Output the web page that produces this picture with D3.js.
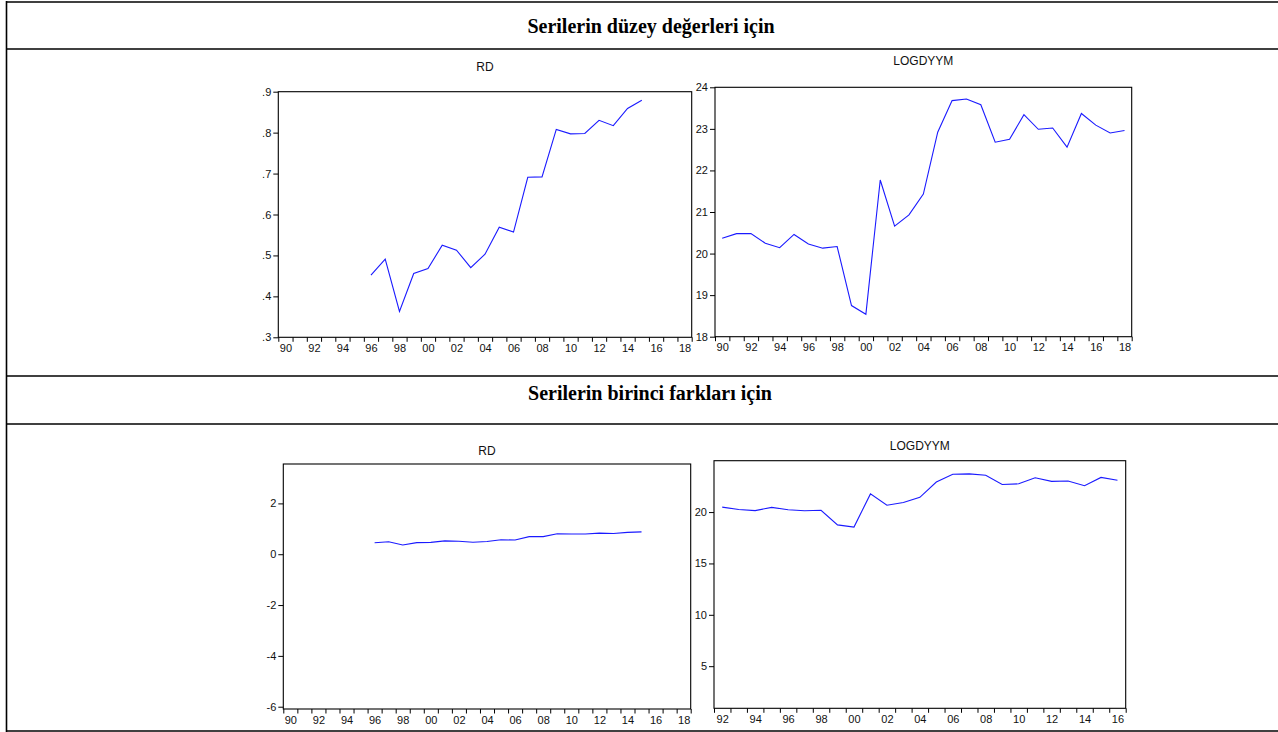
<!DOCTYPE html>
<html>
<head>
<meta charset="utf-8">
<script src="https://cdn.jsdelivr.net/npm/d3@7"></script>
<style>
  body { margin: 0; background: #fff; }
  svg { display: block; }
  .tick text { font-family: "Liberation Sans", Arial, sans-serif; font-size: 11px; fill: #111; }
  .title { font-family: "Liberation Sans", Arial, sans-serif; font-size: 12px; fill: #111; }
  .header { font-family: "Liberation Serif", "Times New Roman", serif; font-size: 20px; font-weight: bold; fill: #000; }
</style>
</head>
<body>
<div id="chart"></div>
<script>

var headers = ["Serilerin düzey değerleri için", "Serilerin birinci farkları için"]

var yearsFull = [1990,1991,1992,1993,1994,1995,1996,1997,1998,1999,2000,2001,2002,2003,2004,
  2005,2006,2007,2008,2009,2010,2011,2012,2013,2014,2015,2016,2017,2018]
var yearsShort = [1992,1993,1994,1995,1996,1997,1998,1999,2000,2001,2002,2003,2004,
  2005,2006,2007,2008,2009,2010,2011,2012,2013,2014,2015,2016]

var rdYears = [1996,1997,1998,1999,2000,2001,2002,2003,2004,2005,2006,2007,2008,2009,2010,
  2011,2012,2013,2014,2015]
var rdValues = [0.452,0.491,0.363,0.456,0.468,0.525,0.513,0.470,0.503,0.569,0.557,0.691,0.692,
  0.808,0.797,0.798,0.830,0.817,0.859,0.879]

var logYears = yearsFull
var logValues = [20.37,20.48,20.48,20.25,20.14,20.46,20.23,20.13,20.17,18.75,18.54,21.77,20.66,
  20.93,21.43,22.92,23.68,23.72,23.58,22.68,22.75,23.34,22.99,23.02,22.56,23.37,23.09,22.90,22.96]

var rdTicksLevel = [0.3,0.4,0.5,0.6,0.7,0.8,0.9]
var logTicksLevel = [18,19,20,21,22,23,24]
var rdTicksDiff = [-6,-4,-2,0,2]
var logTicksDiff = [5,10,15,20]

var width = 1278, height = 732

var svg = d3.select("#chart")
  .append("svg")
  .attr("width", width)
  .attr("height", height)

// table frame
var rows = [2, 49, 376, 424, 731]
rows.forEach(function(y) {
  svg.append("line")
    .attr("x1", 6).attr("x2", width)
    .attr("y1", y).attr("y2", y)
    .attr("stroke", "#000").attr("stroke-width", 1.6)
})
svg.append("line")
  .attr("x1", 6.5).attr("x2", 6.5)
  .attr("y1", 1).attr("y2", 732)
  .attr("stroke", "#000").attr("stroke-width", 1.6)

svg.append("text").attr("class", "header")
  .attr("x", 651).attr("y", 25.5).attr("dy", "0.35em")
  .attr("text-anchor", "middle")
  .text(headers[0])
svg.append("text").attr("class", "header")
  .attr("x", 650).attr("y", 393).attr("dy", "0.35em")
  .attr("text-anchor", "middle")
  .text(headers[1])

function levelFmt(d) { return d3.format(".1f")(d).replace(/^0\./, ".") }
function intFmt(d) { return String(d) }

var panels = [
  { title: "RD", axisYears: yearsFull, years: rdYears, values: rdValues,
    yDomain: [0.3, 0.9], yTicks: rdTicksLevel, fmt: levelFmt,
    box: [278.3, 91.7, 691.7, 337.3], titleY: 67 },
  { title: "LOGDYYM", axisYears: yearsFull, years: logYears, values: logValues,
    yDomain: [18, 24], yTicks: logTicksLevel, fmt: intFmt,
    box: [715, 87.3, 1131.7, 336.7], titleY: 61 },
  { title: "RD", axisYears: yearsFull, years: rdYears, values: rdValues,
    yDomain: [-6.09, 3.55], yTicks: rdTicksDiff, fmt: intFmt,
    box: [283.3, 464, 690.7, 709], titleY: 451 },
  { title: "LOGDYYM", axisYears: yearsShort, years: logYears, values: logValues,
    yDomain: [0.9, 25], yTicks: logTicksDiff, fmt: intFmt,
    box: [714, 460.7, 1125.7, 708.3], titleY: 446 }
]

panels.forEach(function(p) {
  var x0 = p.box[0], y0 = p.box[1], x1 = p.box[2], y1 = p.box[3]
  var first = p.axisYears[0], last = p.axisYears[p.axisYears.length - 1]

  var x = d3.scaleLinear().domain([first - 0.5, last + 0.5]).range([x0, x1])
  var y = d3.scaleLinear().domain(p.yDomain).range([y1, y0])

  var g = svg.append("g")

  // year boundary ticks
  var bounds = p.axisYears.map(function(d) { return d - 0.5 }).concat([last + 0.5])
  g.append("g")
    .attr("transform", "translate(0," + y1 + ")")
    .call(d3.axisBottom(x).tickValues(bounds).tickSize(4.5).tickFormat(""))
    .call(function(s) { s.select(".domain").remove() })
    .selectAll("line").attr("stroke", "#000")

  // even-year labels centred in their year
  var evens = p.axisYears.filter(function(d) { return d % 2 === 0 })
  g.append("g")
    .attr("transform", "translate(0," + y1 + ")")
    .call(d3.axisBottom(x).tickValues(evens).tickSize(0).tickPadding(7)
      .tickFormat(function(d) { return String(d).slice(2) }))
    .call(function(s) { s.select(".domain").remove() })

  g.append("g")
    .attr("transform", "translate(" + x0 + ",0)")
    .call(d3.axisLeft(y).tickValues(p.yTicks).tickSize(5).tickPadding(2).tickFormat(p.fmt))
    .call(function(s) { s.select(".domain").remove() })
    .selectAll("line").attr("stroke", "#000")

  g.append("rect")
    .attr("x", x0).attr("y", y0)
    .attr("width", x1 - x0).attr("height", y1 - y0)
    .attr("fill", "none").attr("stroke", "#000").attr("stroke-width", 1.1)

  var pts = p.years.map(function(d, i) { return { year: d, v: p.values[i] } })
    .filter(function(d) { return d.year >= first && d.year <= last })

  var line = d3.line()
    .x(function(d) { return x(d.year) })
    .y(function(d) { return y(d.v) })

  g.append("path")
    .datum(pts)
    .attr("d", line)
    .attr("fill", "none")
    .attr("stroke", "#1a1aff")
    .attr("stroke-width", 1.1)

  g.append("text").attr("class", "title")
    .attr("x", (x0 + x1) / 2).attr("y", p.titleY).attr("dy", "0.35em")
    .attr("text-anchor", "middle")
    .text(p.title)
})

</script>
</body>
</html>
